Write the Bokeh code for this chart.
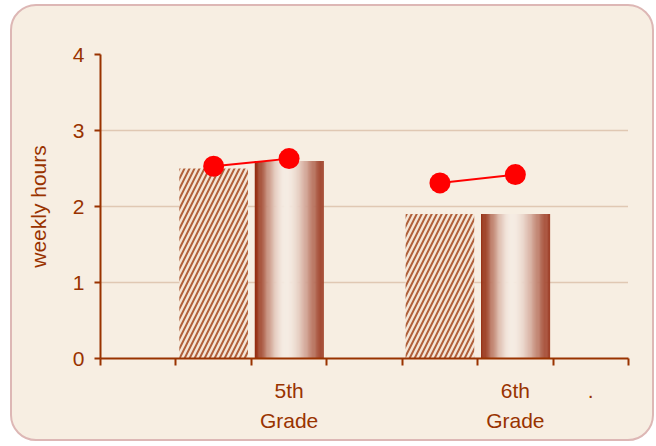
import numpy as np
from bokeh.plotting import figure
from bokeh.models import Range1d, FixedTicker, LinearAxis
from bokeh.embed import file_html
from bokeh.resources import INLINE

# Weekly hours per grade: two bars per grade plus a red marker pair
grades = ["5th", "6th"]
grade_word = "Grade"
hatched_hours = [2.5, 1.9]
gradient_hours = [2.6, 1.9]
dot_first = [2.53, 2.31]
dot_second = [2.63, 2.42]
y_ticks = [0, 1, 2, 3, 4]

# slot positions on the x axis (7 slots, grades occupy slots 2-3 and 5-6)
hatched_x = [1.5, 4.5]
gradient_x = [2.5, 5.5]
bar_w = 0.91

BROWN = "#993300"
CREAM = "#F7EEE2"
FONT = "Liberation Sans"
FS = "21px"

p = figure(width=640, height=433, output_backend="svg", toolbar_location=None,
           x_range=Range1d(0, 7), y_range=Range1d(0, 4),
           min_border_left=88, min_border_right=24, min_border_top=48, min_border_bottom=81,
           frame_width=528, frame_height=304)
p.styles = {"margin": "4px 0 0 10px", "border": "2px solid #DDB7B5",
            "border-radius": "26px", "background-color": CREAM, "box-sizing": "content-box"}
p.border_fill_color = None
p.background_fill_color = None
p.outline_line_color = None
p.xaxis.visible = False
p.yaxis.visible = False
p.xgrid.visible = False

# horizontal dotted grid lines
p.ygrid.ticker = FixedTicker(ticks=y_ticks[1:])
p.ygrid.grid_line_color = "#C9A285"
p.ygrid.grid_line_dash = "1 1"
p.ygrid.grid_line_width = 1.5

# hatched bars
p.vbar(x=hatched_x, top=hatched_hours, width=bar_w, bottom=0,
       fill_color="#F4E6D8", line_color=None,
       hatch_pattern="/", hatch_color="#B0603A", hatch_weight=2, hatch_scale=10)

# shaded (cylinder-like) bars built from thin vertical strips
dark_l = np.array([148, 44, 16])
dark_r = np.array([160, 66, 42])
light = np.array([246, 237, 228])
n = 60
for cx, top in zip(gradient_x, gradient_hours):
    edges = np.linspace(cx - bar_w / 2, cx + bar_w / 2, n + 1)
    t = (np.arange(n) + 0.5) / n
    peak = 0.45
    u = np.where(t < peak, t / peak, (1 - t) / (1 - peak))
    f = np.sin(0.5 * np.pi * u) ** 1.3
    dark = np.where(t[:, None] < peak, dark_l, dark_r)
    rgb = (dark + (light - dark) * f[:, None]).astype(int)
    cols = ["#%02x%02x%02x" % tuple(c) for c in rgb]
    p.quad(left=edges[:-1], right=edges[1:] + 0.006, bottom=0, top=top,
           fill_color=cols, line_color=None)

# red markers joined within each grade
for i in range(len(grades)):
    p.line([hatched_x[i], gradient_x[i]], [dot_first[i], dot_second[i]],
           line_color="#FF0000", line_width=2)
p.scatter(hatched_x + gradient_x, dot_first + dot_second, size=21,
          fill_color="#FF0000", line_color=None)

# y axis
yax = LinearAxis(ticker=FixedTicker(ticks=y_ticks, minor_ticks=[]),
                 axis_label="weekly hours")
yax.axis_line_color = BROWN
yax.axis_line_width = 2
yax.major_tick_line_color = BROWN
yax.major_tick_line_width = 2
yax.major_tick_out = 6
yax.major_tick_in = 0
yax.major_label_text_color = BROWN
yax.major_label_text_font = FONT
yax.major_label_text_font_size = FS
yax.major_label_standoff = 10
yax.axis_label_text_color = BROWN
yax.axis_label_text_font = FONT
yax.axis_label_text_font_size = FS
yax.axis_label_text_font_style = "normal"
yax.axis_label_standoff = 20
p.add_layout(yax, "left")

# x axis: slot boundaries as ticks, grade names in the middle of their slots
label_x = gradient_x + [6.5]
xax = LinearAxis(ticker=FixedTicker(ticks=label_x, minor_ticks=list(range(8))))
xax.major_label_overrides = {gradient_x[0]: grades[0], gradient_x[1]: grades[1], 6.5: "."}
xax.axis_line_color = BROWN
xax.axis_line_width = 2
xax.major_tick_out = 0
xax.major_tick_in = 0
xax.minor_tick_line_color = BROWN
xax.minor_tick_line_width = 2
xax.minor_tick_out = 7
xax.minor_tick_in = 0
xax.major_label_text_color = BROWN
xax.major_label_text_font = FONT
xax.major_label_text_font_size = FS
xax.major_label_standoff = 13
p.add_layout(xax, "below")

xax2 = LinearAxis(ticker=FixedTicker(ticks=gradient_x, minor_ticks=[]))
xax2.major_label_overrides = {gradient_x[0]: grade_word, gradient_x[1]: grade_word}
xax2.axis_line_color = None
xax2.major_tick_line_color = None
xax2.minor_tick_line_color = None
xax2.major_tick_out = 0
xax2.major_tick_in = 0
xax2.minor_tick_out = 0
xax2.minor_tick_in = 0
xax2.major_label_text_color = BROWN
xax2.major_label_text_font = FONT
xax2.major_label_text_font_size = FS
xax2.major_label_standoff = 4
p.add_layout(xax2, "below")

open("out.html", "w").write(file_html(p, INLINE))
